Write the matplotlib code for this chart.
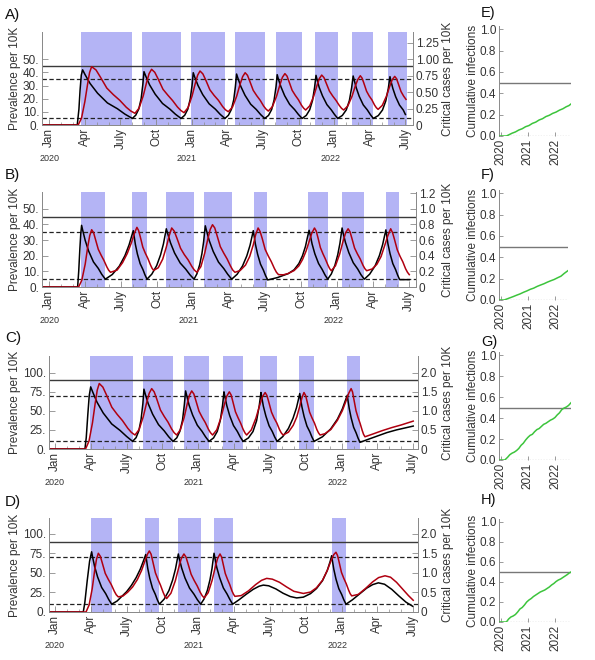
import matplotlib
matplotlib.use("Agg")
import matplotlib.pyplot as plt

plt.rcParams['font.family'] = ['Liberation Sans', 'DejaVu Sans']

# ---- data (x = months since Jan 2020) ----
month_ticks = [0, 3, 6, 9, 12, 15, 18, 21, 24, 27, 30]
month_labels = ['Jan', 'Apr', 'July', 'Oct'] * 2 + ['Jan', 'Apr', 'July']
years = ['2020', '2021', '2022']
year_pos = [0, 11.6, 23.7]

a_shade = [(2.67, 7.0), (7.81, 11.1), (11.97, 14.8), (15.67, 18.15),
           (19.1, 21.3), (22.36, 24.3), (25.5, 27.3), (28.56, 30.1)]
b_shade = [(2.64, 4.67), (6.92, 8.14), (9.7, 12.06), (12.89, 15.2),
           (17.06, 18.14), (21.6, 23.2), (24.37, 26.25), (28.06, 29.14)]
c_shade = [(2.93, 6.5), (7.34, 9.88), (10.83, 12.9), (14.04, 15.75),
           (17.17, 18.6), (20.44, 21.7), (24.48, 25.54)]
d_shade = [(3.02, 4.75), (7.54, 8.74), (10.3, 12.2), (13.29, 14.88), (23.2, 24.35)]

a_black = [(-0.6, 0), (2.36, 0), (2.5, 12), (2.6, 27), (2.7, 38), (2.81, 42), (3.02, 38.3), (3.44, 31.6),
           (4.07, 24.2), (4.9, 16.8), (5.74, 12.4), (6.37, 8.3), (7.0, 5), (7.29, 7.5), (7.54, 12.1),
           (7.74, 20), (7.88, 30.6), (7.98, 40.6), (8.14, 37.0), (8.45, 30.6), (8.92, 23.5), (9.54, 16.4),
           (10.16, 12.1), (10.63, 8.2), (11.1, 5), (11.41, 7.4), (11.67, 12.0), (11.87, 19.6), (12.03, 30.1),
           (12.13, 39.8), (12.26, 36.3), (12.53, 30.1), (12.93, 23.1), (13.47, 16.1), (14.0, 12.0),
           (14.4, 8.1), (14.8, 5), (15.09, 7.4), (15.34, 11.8), (15.54, 19.2), (15.68, 29.3), (15.78, 38.8),
           (15.9, 35.4), (16.14, 29.3), (16.49, 22.6), (16.97, 15.8), (17.44, 11.8), (17.8, 8.0), (18.15, 5),
           (18.47, 7.3), (18.73, 11.7), (18.94, 19.0), (19.1, 29.0), (19.2, 38.3), (19.3, 35.0), (19.52, 29.0),
           (19.83, 22.3), (20.25, 15.7), (20.67, 11.7), (20.99, 8.0), (21.3, 5), (21.65, 7.3), (21.94, 11.6),
           (22.18, 18.8), (22.35, 28.6), (22.47, 37.8), (22.56, 34.5), (22.74, 28.6), (23.02, 22.1),
           (23.39, 15.5), (23.75, 11.6), (24.03, 8.0), (24.3, 5), (24.69, 7.3), (25.02, 11.5), (25.28, 18.6),
           (25.47, 28.3), (25.6, 37.3), (25.69, 34.1), (25.86, 28.3), (26.11, 21.8), (26.45, 15.3),
           (26.79, 11.5), (27.05, 7.9), (27.3, 5), (27.72, 7.2), (28.07, 11.4), (28.35, 18.4), (28.56, 27.9),
           (28.7, 36.8), (28.78, 33.6), (28.94, 27.9), (29.18, 21.5), (29.5, 15.2), (29.82, 11.4), (30.0, 8.0)]
a_red = [(-0.6, 0), (2.44, 0), (2.72, 5.3), (3.0, 17.8), (3.23, 31.1), (3.4, 40), (3.57, 44.4), (3.94, 41.9),
         (4.3, 36.6), (4.85, 28.1), (5.4, 23.1), (5.94, 18.8), (6.49, 13.5), (6.86, 10.7), (7.22, 8.9),
         (7.57, 12.9), (7.92, 22.3), (8.2, 32.4), (8.41, 39.1), (8.62, 42.4), (8.89, 40.1), (9.17, 35.1),
         (9.58, 27.2), (10.0, 22.6), (10.39, 18.6), (10.8, 13.7), (11.08, 11.1), (11.35, 9.4),
         (11.69, 13.2), (12.03, 22.1), (12.3, 31.6), (12.5, 37.9), (12.7, 41.1), (12.94, 38.9), (13.18, 34.3),
         (13.53, 26.8), (13.89, 22.5), (14.25, 18.8), (14.6, 14.1), (14.84, 11.6), (15.08, 10.1),
         (15.44, 13.7), (15.79, 22.0), (16.07, 30.9), (16.29, 36.8), (16.5, 39.8), (16.7, 37.8), (16.89, 33.4),
         (17.18, 26.4), (17.48, 22.3), (17.77, 18.8), (18.06, 14.4), (18.26, 12.1), (18.45, 10.6),
         (18.8, 14.0), (19.15, 22.0), (19.43, 30.6), (19.64, 36.3), (19.85, 39.1), (20.03, 37.2), (20.2, 33.0),
         (20.46, 26.4), (20.73, 22.5), (20.99, 19.2), (21.25, 15.0), (21.43, 12.8), (21.6, 11.4),
         (21.94, 14.6), (22.28, 22.0), (22.55, 30.0), (22.75, 35.3), (22.95, 38.0), (23.14, 36.1),
         (23.32, 32.1), (23.6, 25.8), (23.88, 22.0), (24.15, 18.8), (24.43, 14.9), (24.62, 12.7), (24.8, 11.4),
         (25.15, 14.5), (25.5, 21.8), (25.78, 29.7), (25.99, 34.6), (26.2, 37.5), (26.35, 35.7), (26.5, 31.9),
         (26.73, 25.7), (26.95, 22.1), (27.18, 19.1), (27.4, 15.2), (27.55, 13.2), (27.7, 11.9),
         (28.05, 14.9), (28.4, 21.9), (28.68, 29.5), (28.89, 34.5), (29.1, 37.0), (29.25, 35.3), (29.4, 31.5),
         (29.63, 25.5), (29.85, 22.0), (30.05, 19.5)]

b_black = [(-0.6, 0), (2.36, 0), (2.45, 10), (2.55, 25), (2.62, 34), (2.69, 39.4), (2.79, 36), (2.99, 29.8),
           (3.28, 22.9), (3.68, 16.0), (4.08, 11.9), (4.37, 8.1), (4.67, 5),
           (5.25, 8), (5.83, 13.3), (6.3, 20), (6.65, 27), (6.88, 33), (7.0, 36),
           (7.06, 32.9), (7.17, 27.3), (7.34, 21.1), (7.57, 14.9), (7.8, 11.2), (7.97, 7.8), (8.14, 5),
           (8.54, 8.2), (8.95, 13.7), (9.27, 20.5), (9.51, 27.5), (9.67, 34), (9.75, 37.2),
           (9.87, 34), (10.1, 28.2), (10.44, 21.7), (10.91, 15.3), (11.37, 11.4), (11.71, 7.9), (12.06, 5),
           (12.3, 8.4), (12.53, 14.2), (12.72, 21.4), (12.86, 28.9), (12.95, 35.7), (13.0, 39.1),
           (13.11, 35.7), (13.33, 29.6), (13.66, 22.7), (14.1, 15.9), (14.54, 11.8), (14.87, 8.1), (15.2, 5),
           (15.65, 8.1), (16.1, 13.4), (16.46, 19.9), (16.73, 26.7), (16.91, 32.9), (17.0, 36),
           (17.06, 32.9), (17.18, 27.2), (17.36, 20.9), (17.6, 14.6), (17.84, 10.8), (18.02, 7.3), (18.2, 4.5),
           (19.0, 6.0), (19.9, 8.5), (20.4, 11), (20.8, 15), (21.1, 20), (21.35, 26), (21.52, 32), (21.65, 36.2),
           (21.75, 33.1), (21.9, 27.5), (22.13, 21.2), (22.44, 15.0), (22.74, 11.2), (22.97, 7.8), (23.2, 5),
           (23.5, 8.3), (23.8, 13.8), (24.04, 20.7), (24.22, 27.9), (24.34, 34.4), (24.4, 37.7),
           (24.49, 34.4), (24.68, 28.5), (24.96, 22.0), (25.33, 15.5), (25.7, 11.5), (25.97, 7.9), (26.25, 5),
           (26.7, 8.2), (27.15, 13.5), (27.51, 20.1), (27.78, 27.1), (27.96, 33.4), (28.05, 36.5),
           (28.11, 33.3), (28.22, 27.6), (28.4, 21.2), (28.63, 14.9), (28.86, 11.1), (29.03, 7.6), (29.2, 4.7),
           (30.0, 4.7)]
b_red = [(-0.6, 0), (2.44, 0), (2.71, 4.4), (2.99, 14.6), (3.2, 25.6), (3.37, 32.9), (3.53, 36.6), (3.69, 34.7),
         (3.84, 30.6), (4.08, 24.1), (4.32, 20.3), (4.55, 17.0), (4.79, 12.9), (4.94, 10.8), (5.1, 9.4),
         (5.65, 10.8), (6.1, 15.5), (6.5, 21.5), (6.85, 28.5), (7.1, 34.5), (7.3, 38.1),
         (7.44, 36.1), (7.58, 32.1), (7.79, 25.5), (8.0, 21.6), (8.21, 18.3), (8.42, 14.3), (8.56, 12.0), (8.7, 10.6),
         (9.08, 12.3), (9.45, 17.8), (9.75, 25.5), (9.98, 32.5), (10.2, 37.7),
         (10.41, 35.7), (10.62, 31.5), (10.94, 24.7), (11.25, 20.7), (11.57, 17.3), (11.88, 13.1), (12.09, 10.8),
         (12.3, 9.4), (12.63, 13.0), (12.95, 21.6), (13.21, 30.7), (13.41, 36.8), (13.6, 39.8),
         (13.79, 37.7), (13.97, 33.1), (14.25, 25.8), (14.54, 21.6), (14.82, 17.9), (15.1, 13.4), (15.28, 10.9),
         (15.47, 9.4), (15.9, 10.5), (16.35, 14.0), (16.7, 19.5), (17.0, 27.0), (17.2, 33.5), (17.4, 37.7),
         (17.57, 35.4), (17.74, 31.1), (17.99, 24.0), (18.25, 19.8), (18.5, 16.2), (18.76, 11.8), (18.93, 9.4),
         (19.1, 7.9), (19.5, 7.8), (19.9, 8.6), (20.4, 10.5), (20.8, 13.5), (21.1, 17.5), (21.4, 23.0),
         (21.65, 29.0), (21.88, 34.5), (22.1, 37.7),
         (22.24, 35.8), (22.38, 31.8), (22.59, 25.2), (22.8, 21.3), (23.0, 18.0), (23.22, 14.0), (23.36, 11.8),
         (23.5, 10.4), (23.85, 13.6), (24.2, 21.1), (24.48, 29.2), (24.69, 34.5), (24.9, 37.2),
         (25.06, 35.3), (25.21, 31.3), (25.44, 24.9), (25.68, 21.1), (25.91, 17.9), (26.14, 13.9), (26.3, 11.7),
         (26.45, 10.4), (26.9, 11.5), (27.3, 14.5), (27.65, 19.5), (27.95, 26.5), (28.2, 32.5), (28.45, 37.2),
         (28.61, 34.6), (28.76, 30.6), (29.0, 23.7), (29.23, 19.6), (29.46, 16.1), (29.69, 11.7), (29.85, 9.4),
         (30.0, 7.9)]

c_black = [(-0.5, 0), (2.51, 0), (2.62, 15), (2.75, 45), (2.87, 70), (2.99, 81.3), (3.17, 74.2), (3.52, 61.3),
           (4.04, 47.1), (4.75, 32.8), (5.45, 24.3), (6.0, 16.4), (6.5, 10),
           (6.79, 14.8), (7.02, 23.7), (7.21, 38.7), (7.36, 59.2), (7.45, 78.3),
           (7.57, 71.5), (7.81, 59.2), (8.18, 45.5), (8.67, 31.9), (9.15, 23.7), (9.52, 16.1), (9.88, 10),
           (10.2, 14.6), (10.46, 23.2), (10.68, 37.7), (10.83, 57.5), (10.94, 76),
           (11.04, 69.4), (11.23, 57.5), (11.53, 44.3), (11.92, 31.1), (12.31, 23.2), (12.61, 15.9), (12.9, 10),
           (13.28, 14.5), (13.59, 23.0), (13.84, 37.2), (14.03, 56.7), (14.15, 74.8),
           (14.23, 68.3), (14.39, 56.7), (14.63, 43.7), (14.95, 30.7), (15.27, 23.0), (15.51, 15.8), (15.75, 10),
           (16.2, 14.5), (16.58, 22.8), (16.88, 36.8), (17.1, 56.0), (17.25, 73.9),
           (17.32, 67.5), (17.45, 56.0), (17.66, 43.2), (17.93, 30.4), (18.2, 22.8), (18.4, 15.7), (18.6, 10),
           (19.08, 16.3), (19.55, 26.9), (19.93, 40.0), (20.22, 53.8), (20.41, 66.3), (20.5, 72.6),
           (20.56, 66.3), (20.68, 55.1), (20.86, 42.6), (21.1, 30.0), (21.34, 22.5), (21.52, 15.6), (21.7, 10),
           (22.4, 16.0), (23.09, 26.3), (23.65, 39.0), (24.06, 52.3), (24.34, 64.4), (24.48, 70.4),
           (24.53, 64.2), (24.64, 53.1), (24.8, 40.8), (25.01, 28.4), (25.22, 21.0), (25.38, 14.3), (25.54, 8.7),
           (26.2, 12.5), (27.0, 17.0), (27.8, 21.5), (28.6, 25.0), (29.3, 27.5), (30.0, 30.0)]
c_red = [(-0.5, 0), (2.56, 0), (2.85, 10.3), (3.14, 34.3), (3.37, 60), (3.54, 77.1), (3.71, 85.7), (4.01, 81.0),
         (4.31, 70.9), (4.76, 54.7), (5.21, 45.3), (5.65, 37.2), (6.1, 27.1), (6.4, 21.7), (6.7, 18.3),
         (7.05, 25.6), (7.4, 42.6), (7.68, 60.8), (7.89, 72.9), (8.1, 79),
         (8.31, 74.7), (8.52, 65.6), (8.83, 51.1), (9.15, 42.6), (9.46, 35.3), (9.77, 26.2), (9.98, 21.3),
         (10.19, 18.3), (10.5, 25.2), (10.82, 41.4), (11.07, 58.7), (11.26, 70.2), (11.45, 76),
         (11.63, 72.0), (11.8, 63.3), (12.06, 49.5), (12.33, 41.4), (12.59, 34.5), (12.85, 25.8), (13.03, 21.2),
         (13.2, 18.3), (13.55, 25.1), (13.9, 40.9), (14.18, 57.9), (14.39, 69.2), (14.6, 74.8),
         (14.75, 70.8), (14.89, 62.4), (15.11, 48.8), (15.33, 40.9), (15.54, 34.1), (15.76, 25.6), (15.91, 21.1),
         (16.05, 18.3), (16.44, 25.0), (16.83, 40.5), (17.14, 57.2), (17.37, 68.3), (17.6, 73.9),
         (17.75, 70.0), (17.9, 61.7), (18.13, 48.3), (18.35, 40.5), (18.58, 33.9), (18.8, 25.5), (18.95, 21.1),
         (19.1, 18.3), (19.55, 22), (19.95, 31), (20.25, 42), (20.5, 56), (20.68, 67), (20.85, 73.9),
         (20.99, 70.0), (21.12, 61.7), (21.32, 48.3), (21.53, 40.5), (21.73, 33.9), (21.93, 25.5), (22.07, 21.1),
         (22.2, 18.3), (22.6, 20), (23.1, 25.5), (23.65, 37.5), (24.06, 50), (24.35, 62), (24.6, 73), (24.8, 79),
         (24.92, 74.6), (25.03, 65.1), (25.21, 50.0), (25.38, 41.2), (25.55, 33.6), (25.73, 24.2), (25.84, 19.2),
         (25.96, 16), (26.6, 19.5), (27.4, 24), (28.2, 28), (29.0, 31.5), (30.0, 36.5)]

d_black = [(-0.5, 0), (2.37, 0), (2.5, 12), (2.7, 40), (2.9, 65), (3.07, 77), (3.15, 70.3), (3.32, 58.2),
           (3.57, 44.8), (3.91, 31.4), (4.25, 23.4), (4.5, 16.0), (4.75, 10),
           (5.2, 14), (5.6, 20), (6.0, 26), (6.4, 34), (6.8, 44), (7.15, 55), (7.4, 65), (7.6, 73.5),
           (7.66, 67.2), (7.77, 55.7), (7.94, 43.0), (8.17, 30.3), (8.4, 22.7), (8.57, 15.7), (8.74, 10),
           (9.14, 16.4), (9.54, 27.3), (9.85, 40.8), (10.09, 54.9), (10.25, 67.8), (10.33, 74.2),
           (10.42, 67.8), (10.61, 56.2), (10.89, 43.4), (11.27, 30.5), (11.64, 22.8), (11.92, 15.8), (12.2, 10),
           (12.48, 16.5), (12.76, 27.6), (12.98, 41.2), (13.15, 55.6), (13.26, 68.6), (13.32, 75.1),
           (13.4, 68.6), (13.55, 56.9), (13.79, 43.9), (14.1, 30.8), (14.41, 23.0), (14.65, 15.9), (14.88, 10),
           (15.4, 15.5), (16.0, 22.5), (16.6, 29), (17.1, 33), (17.45, 34.4), (17.9, 33.5), (18.5, 29.5),
           (19.1, 24), (19.7, 19.8), (20.24, 18), (20.8, 19), (21.4, 23.5), (21.9, 30), (22.4, 40), (22.8, 53),
           (23.05, 65), (23.17, 72),
           (23.23, 65.8), (23.35, 54.6), (23.53, 42.2), (23.77, 29.8), (24.01, 22.4), (24.19, 15.6), (24.37, 10),
           (24.9, 15.5), (25.5, 23), (26.1, 30.5), (26.6, 35), (27.08, 37.3), (27.6, 35.5), (28.2, 29),
           (28.8, 20.5), (29.4, 12.5), (29.96, 7.3)]
d_red = [(-0.5, 0), (2.6, 0), (2.86, 9), (3.12, 30), (3.32, 52.6), (3.48, 67.6), (3.63, 75.1), (3.8, 71.2),
         (3.96, 62.8), (4.21, 49.4), (4.47, 41.6), (4.72, 34.9), (4.97, 26.5), (5.13, 22.1), (5.3, 19.3),
         (5.7, 20.5), (6.1, 25.5), (6.5, 32), (6.9, 41.5), (7.25, 53), (7.55, 66), (7.75, 74), (7.9, 78.1),
         (8.05, 73.9), (8.19, 64.7), (8.41, 50.1), (8.63, 41.6), (8.84, 34.2), (9.06, 25.1), (9.2, 20.2),
         (9.35, 17.2), (9.71, 24.0), (10.08, 40.0), (10.37, 57.1), (10.58, 68.5), (10.8, 74.2),
         (10.97, 70.3), (11.14, 61.8), (11.4, 48.3), (11.65, 40.5), (11.9, 33.7), (12.16, 25.3), (12.33, 20.8),
         (12.5, 18), (12.83, 24.7), (13.16, 40.5), (13.42, 57.3), (13.62, 68.6), (13.82, 74.2),
         (13.95, 70.4), (14.07, 62.3), (14.26, 49.3), (14.45, 41.7), (14.63, 35.2), (14.82, 27.0), (14.95, 22.7),
         (15.07, 20), (15.6, 21), (16.2, 27), (16.8, 35), (17.3, 40.5), (17.73, 43), (18.2, 42), (18.8, 38),
         (19.4, 32), (20.0, 26.5), (20.8, 23.7), (21.4, 25.5), (21.9, 31), (22.4, 40.5), (22.8, 53), (23.1, 65),
         (23.35, 73.5), (23.53, 76.4),
         (23.66, 72.3), (23.79, 64.1), (23.99, 50.7), (24.19, 42.9), (24.39, 36.2), (24.59, 27.9), (24.72, 23.4),
         (24.85, 20.6), (25.4, 22.5), (26.0, 30), (26.6, 38.5), (27.1, 44), (27.64, 46.3), (28.1, 44.5),
         (28.6, 38), (29.1, 29.5), (29.6, 21), (30.0, 15)]

e_cum = [(-0.76, 0), (2.5, 0), (3.5, 0.01), (5, 0.026), (6.5, 0.038), (8, 0.056), (9.5, 0.068), (11, 0.087),
         (12.5, 0.098), (14, 0.118), (15.5, 0.13), (17, 0.15), (18.5, 0.162), (20, 0.182), (21.5, 0.194),
         (23, 0.212), (24.5, 0.224), (26, 0.242), (27.5, 0.255), (29, 0.274), (30.2, 0.285), (31.1, 0.3)]
f_cum = [(-0.76, 0), (1.5, 0), (2.5, 0.008), (4, 0.02), (5.5, 0.032), (7, 0.045), (8.5, 0.057), (10, 0.072),
         (11.5, 0.085), (13, 0.1), (14.5, 0.111), (16, 0.127), (17.5, 0.14), (19, 0.152), (20.5, 0.167),
         (22, 0.18), (23.5, 0.192), (25, 0.208), (26.5, 0.223), (28, 0.25), (29.6, 0.275)]
g_cum = [(-0.76, 0), (1.8, 0), (3, 0.025), (4, 0.05), (5, 0.065), (6, 0.075), (7, 0.09), (8, 0.11), (9, 0.14),
         (10, 0.16), (11, 0.19), (12, 0.215), (13, 0.235), (14, 0.245), (15, 0.27), (16, 0.29), (17, 0.3),
         (18, 0.32), (19, 0.34), (20, 0.35), (21, 0.365), (22, 0.38), (23, 0.39), (24, 0.405), (25, 0.43),
         (26, 0.45), (27, 0.48), (28, 0.495), (29, 0.505), (30, 0.52), (31.1, 0.546)]
h_cum = [(-0.76, 0), (2.5, 0), (3.5, 0.03), (4.5, 0.05), (5.5, 0.06), (6.5, 0.075), (7.5, 0.1), (8.5, 0.13),
         (9.5, 0.145), (10.5, 0.17), (11.5, 0.2), (12.5, 0.22), (13.5, 0.235), (14.5, 0.255), (15.5, 0.27),
         (16.5, 0.285), (17.5, 0.3), (18.5, 0.31), (19.5, 0.32), (20.5, 0.335), (21.5, 0.35), (22.5, 0.37),
         (23.5, 0.385), (24.5, 0.405), (25.5, 0.42), (26.5, 0.43), (27.5, 0.445), (28.5, 0.46), (29.5, 0.475),
         (30.3, 0.49), (31.1, 0.5)]

# ---- layout ----
W, H = 595, 660
fig = plt.figure(figsize=(W / 100, H / 100), dpi=100)


def box(l, t, r, b):
    return [l / W, 1 - b / H, (r - l) / W, (b - t) / H]


SHADE = '#b4b4f5'
TXT = '#333333'
SPINE = '#8a8a8a'

left_panels = [
    # letter, rect, xlim, ytop, solid, dashes, yticks, rticks, rlabels, shade, black, red, letter y
    ('A)', box(42, 32, 413, 125), (-0.61, 30.64), 70.8, 45, (35, 5),
     [0, 10, 20, 30, 40, 50], [0, 0.25, 0.5, 0.75, 1.0, 1.25], ['0', '0.25', '0.50', '0.75', '1.00', '1.25'],
     a_shade, a_black, a_red, 15),
    ('B)', box(42, 192, 416, 287), (-0.61, 30.56), 60.7, 45, (35, 5),
     [0, 10, 20, 30, 40, 50], [0, 0.2, 0.4, 0.6, 0.8, 1.0, 1.2], ['0', '0.2', '0.4', '0.6', '0.8', '1.0', '1.2'],
     b_shade, b_black, b_red, 175),
    ('C)', box(49, 356, 418, 449), (-0.5, 30.4), 121.7, 90, (70, 10),
     [0, 25, 50, 75, 100], [0, 0.5, 1.0, 1.5, 2.0], ['0', '0.5', '1.0', '1.5', '2.0'],
     c_shade, c_black, c_red, 338),
    ('D)', box(49, 518, 418, 612), (-0.5, 30.4), 120.2, 90, (70, 10),
     [0, 25, 50, 75, 100], [0, 0.5, 1.0, 1.5, 2.0], ['0', '0.5', '1.0', '1.5', '2.0'],
     d_shade, d_black, d_red, 502),
]

for (letter, rect, xlim, ytop, solid, dashes, yt, rt, rl, shade, black, red, ly) in left_panels:
    ax = fig.add_axes(rect)
    for s, e in shade:
        ax.axvspan(s, e, color=SHADE, lw=0, zorder=0)
    ax.axhline(solid, color='#3a3a3a', lw=1.0, zorder=2)
    for d in dashes:
        ax.axhline(d, color='#222222', lw=0.9, ls=(0, (3.5, 2)), zorder=2)
    bt, bv = zip(*black)
    rt_, rv = zip(*red)
    ax.plot(bt, bv, color='black', lw=1.1, zorder=3)
    ax.plot(rt_, rv, color='#b00010', lw=1.1, zorder=4)
    ax.set_xlim(*xlim)
    ax.set_ylim(0, ytop)
    ax.set_xticks(month_ticks)
    ax.set_xticklabels(month_labels, rotation=90)
    ax.set_xticks(range(0, 31), minor=True)
    ax.set_yticks(yt)
    ax.set_yticklabels([f'{v}.' for v in yt])
    ax.tick_params(axis='both', which='major', direction='in', length=4, width=0.6, color=SPINE,
                   labelsize=8.5, labelcolor=TXT, pad=2)
    ax.tick_params(axis='x', which='minor', direction='in', length=2, width=0.5, color=SPINE)
    for sp in ['left', 'right', 'bottom']:
        ax.spines[sp].set_color(SPINE)
        ax.spines[sp].set_linewidth(0.7)
    ax.spines['top'].set_visible(False)
    ax2 = ax.twinx()
    ax2.set_ylim(0, ytop / 50)
    ax2.set_yticks(rt)
    ax2.set_yticklabels(rl)
    ax2.tick_params(axis='y', direction='in', length=4, width=0.6, color=SPINE,
                    labelsize=8.5, labelcolor=TXT, pad=2)
    for sp in ['left', 'right', 'bottom']:
        ax2.spines[sp].set_color(SPINE)
        ax2.spines[sp].set_linewidth(0.7)
    ax2.spines['top'].set_visible(False)
    for yr, xp in zip(years, year_pos):
        ax.annotate(yr, xy=(xp, 0), xycoords=('data', 'axes fraction'), xytext=(0, -24),
                    textcoords='offset points', ha='center', va='center', fontsize=6.5, color=TXT)
    ycen = rect[1] + rect[3] / 2
    fig.text(15 / W, ycen, 'Prevalence per 10K', rotation=90, ha='center', va='center',
             fontsize=8.5, color=TXT)
    fig.text(448 / W, ycen, 'Critical cases per 10K', rotation=90, ha='center', va='center',
             fontsize=8.5, color=TXT)
    fig.text(5 / W, 1 - ly / H, letter, ha='left', va='center', fontsize=11, color='#111111')

right_panels = [
    ('E)', box(499, 26, 571, 136), e_cum, 13),
    ('F)', box(499, 190, 568, 300), f_cum, 175),
    ('G)', box(499, 352, 571, 460), g_cum, 342),
    ('H)', box(499, 519, 571, 622), h_cum, 500),
]

for letter, rect, cum, ly in right_panels:
    ax = fig.add_axes(rect)
    ax.axhline(0.5, color='#777777', lw=1.0, zorder=2)
    ax.axhline(0.0, color='#999999', lw=0.9, ls=(0, (1, 1.2)), zorder=2)
    ct, cv = zip(*cum)
    ax.plot(ct, cv, color='#3cc43c', lw=1.1, zorder=3)
    ax.set_xlim(-0.76, cum[-1][0])
    ax.set_ylim(0, 1.03)
    ax.set_xticks([0, 12, 24])
    ax.set_xticklabels(years, rotation=90)
    ax.set_yticks([0, 0.2, 0.4, 0.6, 0.8, 1.0])
    ax.set_yticklabels(['0.0', '0.2', '0.4', '0.6', '0.8', '1.0'])
    ax.tick_params(axis='both', direction='in', length=3, width=0.6, color=SPINE,
                   labelsize=8.5, labelcolor=TXT, pad=2)
    for sp in ['top', 'right', 'bottom']:
        ax.spines[sp].set_visible(False)
    ax.spines['left'].set_color(SPINE)
    ax.spines['left'].set_linewidth(0.7)
    ycen = rect[1] + rect[3] / 2
    fig.text(473 / W, ycen, 'Cumulative infections', rotation=90, ha='center', va='center',
             fontsize=8.5, color=TXT)
    fig.text(481 / W, 1 - ly / H, letter, ha='left', va='center', fontsize=10.5, color='#111111')

fig.savefig('out.png', dpi=100)
